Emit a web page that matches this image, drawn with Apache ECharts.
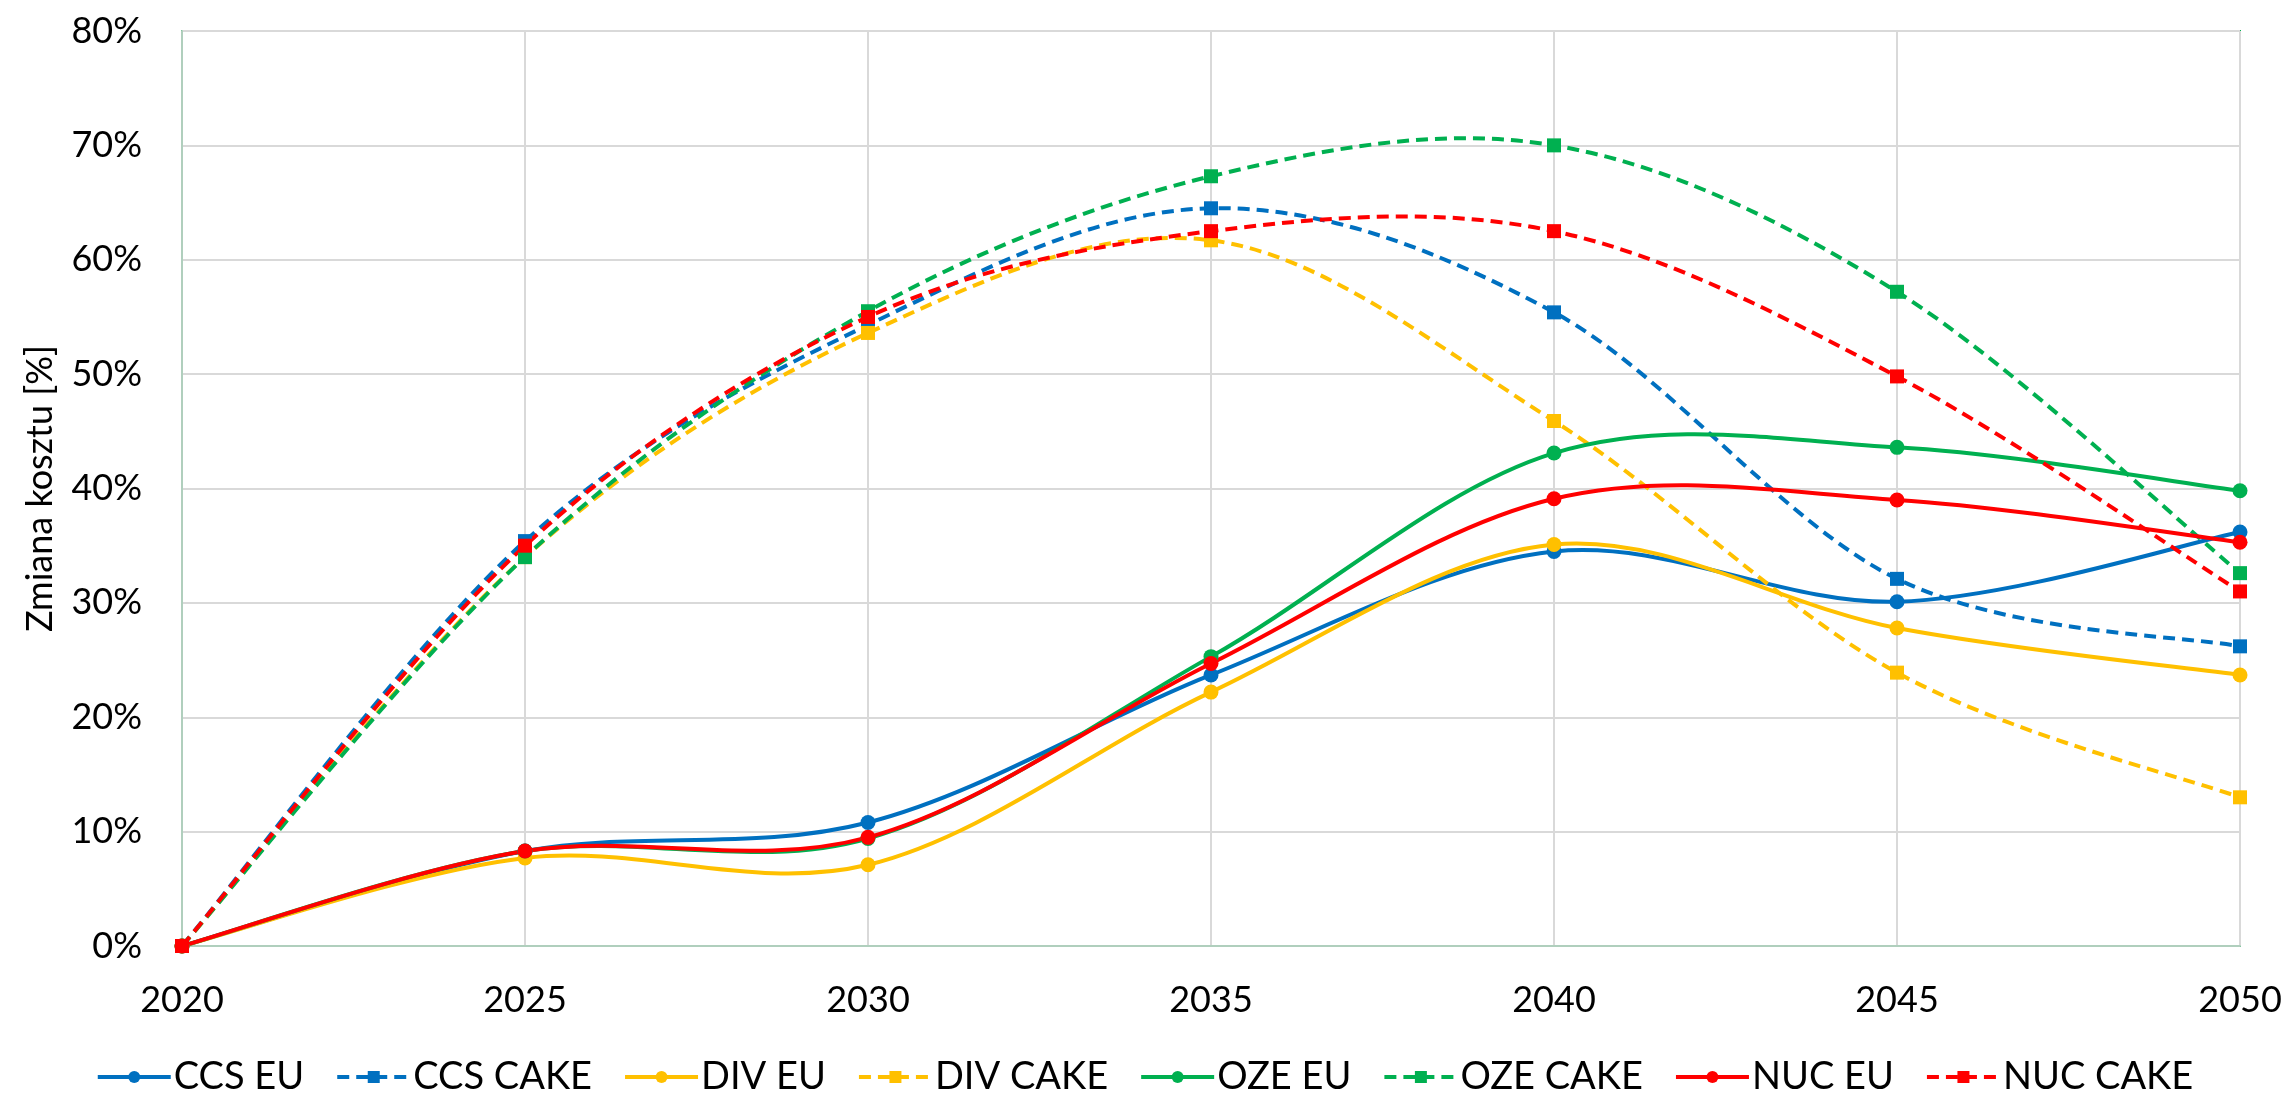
<!DOCTYPE html>
<html>
<head>
<meta charset="utf-8">
<script src="https://cdn.jsdelivr.net/npm/echarts@6/dist/echarts.min.js"></script>
<style>
  html, body { margin: 0; padding: 0; background: #fff; }
  #chart { width: 2289px; height: 1100px; }
</style>
</head>
<body>
<div id="chart"></div>
<script>
// Years on the horizontal axis
const years = [2020, 2025, 2030, 2035, 2040, 2045, 2050];

// Cost change [%] per scenario
const ccsEu   = [0, 8.3, 10.8, 23.7, 34.5, 30.1, 36.2];
const ccsCake = [0, 35.4, 54.3, 64.5, 55.4, 32.1, 26.2];
const divEu   = [0, 7.7, 7.1, 22.2, 35.1, 27.8, 23.7];
const divCake = [0, 34.0, 53.6, 61.7, 45.9, 23.9, 13.0];
const ozeEu   = [0, 8.3, 9.4, 25.3, 43.1, 43.6, 39.8];
const ozeCake = [0, 34.0, 55.5, 67.3, 70.0, 57.2, 32.6];
const nucEu   = [0, 8.3, 9.5, 24.7, 39.1, 39.0, 35.3];
const nucCake = [0, 35.0, 55.0, 62.5, 62.5, 49.8, 31.0];

const seriesNames = ['CCS EU', 'CCS CAKE', 'DIV EU', 'DIV CAKE', 'OZE EU', 'OZE CAKE', 'NUC EU', 'NUC CAKE'];
const seriesValues = [ccsEu, ccsCake, divEu, divCake, ozeEu, ozeCake, nucEu, nucCake];
const colors = ['#0070C0', '#0070C0', '#FFC000', '#FFC000', '#00B050', '#00B050', '#FF0000', '#FF0000'];

const FONT = 'Lato';
const DASH = [12, 7];

// Cardinal (Catmull-Rom) spline through pixel points, like spreadsheet "smoothed line"
echarts.graphic.registerShape('splineCurve', echarts.graphic.extendShape({
  shape: { points: [] },
  buildPath(ctx, shape) {
    const p = shape.points;
    if (!p || p.length < 2) return;
    ctx.moveTo(p[0][0], p[0][1]);
    for (let i = 0; i < p.length - 1; i++) {
      const p0 = p[Math.max(i - 1, 0)];
      const p1 = p[i];
      const p2 = p[i + 1];
      const p3 = p[Math.min(i + 2, p.length - 1)];
      const c1x = p1[0] + (p2[0] - p0[0]) / 6;
      const c1y = p1[1] + (p2[1] - p0[1]) / 6;
      const c2x = p2[0] - (p3[0] - p1[0]) / 6;
      const c2y = p2[1] - (p3[1] - p1[1]) / 6;
      ctx.bezierCurveTo(c1x, c1y, c2x, c2y, p2[0], p2[1]);
    }
  }
}));

// Marker series (also provide the legend icons), in legend order
const markerSeries = seriesNames.map((name, i) => {
  const dashed = name.endsWith('CAKE');
  return {
    name: name,
    type: 'line',
    z: 3,
    data: years.map((y, k) => [y, seriesValues[i][k]]),
    symbol: dashed ? 'rect' : 'circle',
    symbolSize: dashed ? 14 : 15,
    showSymbol: true,
    lineStyle: { color: colors[i], width: 4, type: dashed ? DASH : 'solid', opacity: 0 },
    itemStyle: { color: colors[i], borderWidth: 0 },
    emphasis: { disabled: true },
    animation: false
  };
});

// Smoothed curves, drawn below all markers
const curveSeries = seriesNames.map((name, i) => {
  const dashed = name.endsWith('CAKE');
  const values = seriesValues[i];
  return {
    name: name,
    type: 'custom',
    z: 2,
    silent: true,
    animation: false,
    data: years.map((y, k) => [y, values[k]]),
    encode: { x: 0, y: 1 },
    renderItem(params, api) {
      if (params.dataIndex !== 0) return null;
      const pts = years.map((y, k) => api.coord([y, values[k]]));
      return {
        type: 'splineCurve',
        shape: { points: pts },
        style: {
          fill: null,
          stroke: colors[i],
          lineWidth: 4,
          lineDash: dashed ? DASH : null,
          lineCap: 'butt',
          lineJoin: 'round'
        }
      };
    }
  };
});

const chart = echarts.init(document.getElementById('chart'), null, { renderer: 'canvas' });
chart.setOption({
  backgroundColor: '#ffffff',
  textStyle: { fontFamily: FONT, color: '#000' },
  grid: {
    left: 182, right: 49, top: 31, bottom: 154,
    show: true, borderColor: '#00B050', borderWidth: 2, backgroundColor: 'transparent'
  },
  legend: {
    data: seriesNames,
    top: 1053,
    left: 'center',
    itemWidth: 73,
    itemHeight: 15,
    itemGap: 31,
    lineStyle: { opacity: 1, width: 4 },
    textStyle: { fontFamily: FONT, fontSize: 38, color: '#000', padding: [0, 0, 0, -2] }
  },
  xAxis: {
    type: 'value',
    min: 2020, max: 2050, interval: 5,
    axisLine: { show: true, lineStyle: { color: '#B0CFBD', width: 2 } },
    axisTick: { show: false },
    splitLine: { show: true, lineStyle: { color: '#D9D9D9', width: 2 } },
    axisLabel: {
      fontFamily: FONT, fontSize: 36, color: '#000', margin: 36,
      formatter: v => String(v)
    }
  },
  yAxis: {
    type: 'value',
    min: 0, max: 80, interval: 10,
    name: 'Zmiana kosztu [%]',
    nameLocation: 'middle',
    nameGap: 124,
    nameTextStyle: { fontFamily: FONT, fontSize: 36, color: '#000' },
    axisLine: { show: true, lineStyle: { color: '#B0CFBD', width: 2 } },
    axisTick: { show: false },
    splitLine: { show: true, lineStyle: { color: '#D9D9D9', width: 2 } },
    axisLabel: {
      fontFamily: FONT, fontSize: 36, color: '#000', margin: 40,
      formatter: '{value}%'
    }
  },
  series: markerSeries.concat(curveSeries)
});
</script>
</body>
</html>
